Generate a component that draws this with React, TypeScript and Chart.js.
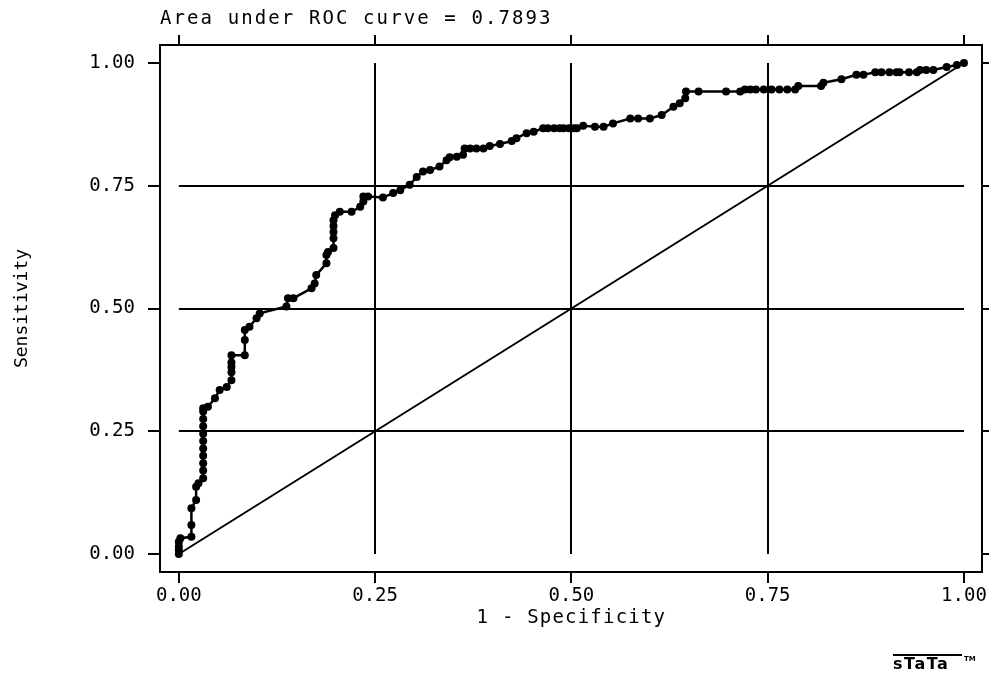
import React, { useEffect, useRef } from "react";
import { Chart, registerables } from "chart.js";
Chart.register(...registerables);

// ROC curve points (1 - specificity, sensitivity)
const fpr = [
  0, 0, 0, 0, 0.002, 0.016, 0.016, 0.016, 0.022, 0.022, 0.025, 0.031, 0.031, 0.031, 0.031, 0.031,
  0.031, 0.031, 0.031, 0.031, 0.031, 0.031, 0.037, 0.046, 0.052, 0.061, 0.067, 0.067, 0.067, 0.067,
  0.067, 0.084, 0.084, 0.084, 0.09, 0.099, 0.103, 0.137, 0.139, 0.146, 0.169, 0.173, 0.175, 0.188,
  0.188, 0.19, 0.197, 0.197, 0.197, 0.197, 0.197, 0.199, 0.205, 0.22, 0.231, 0.235, 0.235, 0.241,
  0.26, 0.273, 0.282, 0.294, 0.303, 0.311, 0.32, 0.332, 0.341, 0.345, 0.354, 0.362, 0.364, 0.371,
  0.379, 0.388, 0.396, 0.409, 0.424, 0.43, 0.443, 0.452, 0.464, 0.47, 0.478, 0.485, 0.49, 0.497,
  0.503, 0.507, 0.515, 0.53, 0.541, 0.553, 0.575, 0.585, 0.6, 0.615, 0.63, 0.638, 0.645, 0.646,
  0.662, 0.697, 0.715, 0.721, 0.728, 0.735, 0.745, 0.755, 0.765, 0.775, 0.785, 0.789, 0.818, 0.821,
  0.844, 0.863, 0.872, 0.887, 0.895, 0.905, 0.914, 0.918, 0.93, 0.94, 0.944, 0.952, 0.961, 0.978,
  0.991, 1.0,
];
const tpr = [
  0, 0.008, 0.015, 0.025, 0.032, 0.035, 0.059, 0.093, 0.11, 0.137, 0.144, 0.154, 0.17, 0.185, 0.2, 0.215,
  0.23, 0.245, 0.26, 0.275, 0.29, 0.297, 0.3, 0.317, 0.334, 0.34, 0.354, 0.37, 0.381, 0.39,
  0.405, 0.405, 0.436, 0.456, 0.463, 0.48, 0.49, 0.504, 0.521, 0.521, 0.541, 0.551, 0.568, 0.592,
  0.609, 0.615, 0.623, 0.643, 0.656, 0.668, 0.68, 0.69, 0.697, 0.697, 0.707, 0.718, 0.728, 0.728,
  0.726, 0.735, 0.741, 0.752, 0.768, 0.779, 0.782, 0.789, 0.802, 0.808, 0.809, 0.813, 0.826, 0.826,
  0.826, 0.826, 0.831, 0.835, 0.841, 0.847, 0.857, 0.86, 0.867, 0.867, 0.867, 0.867, 0.867, 0.867,
  0.867, 0.867, 0.872, 0.87, 0.87, 0.877, 0.887, 0.887, 0.887, 0.894, 0.911, 0.918, 0.928, 0.942,
  0.942, 0.942, 0.942, 0.946, 0.946, 0.946, 0.946, 0.946, 0.946, 0.946, 0.946, 0.953, 0.953, 0.96,
  0.967, 0.976, 0.976, 0.981, 0.981, 0.981, 0.981, 0.981, 0.981, 0.981, 0.986, 0.986, 0.986, 0.992,
  0.996, 1.0,
];
const diagX = [0, 1];
const diagY = [0, 1];
const tickValues = [0, 0.25, 0.5, 0.75, 1];
const gridValues = [0.25, 0.5, 0.75];
const titleText = "Area under ROC curve = 0.7893";
const xTitle = "1 - Specificity";
const yTitle = "Sensitivity";
const logoText = "sTaTa";

const FONT = '"DejaVu Sans Mono", monospace';

export default function App() {
  const ref = useRef<HTMLCanvasElement>(null);
  useEffect(() => {
    document.body.style.margin = "0";
    const canvas = ref.current!;

    const stataPlugin = {
      id: "stataFrame",
      beforeDatasetsDraw(chart: any) {
        const { ctx, scales } = chart;
        const xs = scales.x, ys = scales.y;
        ctx.save();
        ctx.strokeStyle = "#000";
        ctx.lineWidth = 2;
        gridValues.forEach((v) => {
          const px = Math.round(xs.getPixelForValue(v));
          ctx.beginPath();
          ctx.moveTo(px, ys.getPixelForValue(1));
          ctx.lineTo(px, ys.getPixelForValue(0));
          ctx.stroke();
          const py = Math.round(ys.getPixelForValue(v));
          ctx.beginPath();
          ctx.moveTo(xs.getPixelForValue(0), py);
          ctx.lineTo(xs.getPixelForValue(1), py);
          ctx.stroke();
        });
        ctx.restore();
      },
      afterDraw(chart: any) {
        const { ctx, chartArea, scales } = chart;
        const xs = scales.x, ys = scales.y;
        ctx.save();
        ctx.strokeStyle = "#000";
        ctx.lineWidth = 2;
        ctx.strokeRect(chartArea.left, chartArea.top, chartArea.right - chartArea.left, chartArea.bottom - chartArea.top);
        ctx.lineWidth = 2;
        tickValues.forEach((v) => {
          const px = Math.round(xs.getPixelForValue(v));
          ctx.beginPath();
          ctx.moveTo(px, chartArea.top);
          ctx.lineTo(px, chartArea.top - 10);
          ctx.stroke();
          const py = Math.round(ys.getPixelForValue(v));
          ctx.beginPath();
          ctx.moveTo(chartArea.right, py);
          ctx.lineTo(chartArea.right + 7, py);
          ctx.stroke();
        });
        ctx.fillStyle = "#000";
        // title
        ctx.font = `19px ${FONT}`;
        (ctx as any).letterSpacing = "2.1px";
        ctx.textAlign = "left";
        ctx.textBaseline = "alphabetic";
        ctx.fillText(titleText, chartArea.left, 24);
        // x title
        (ctx as any).letterSpacing = "1.2px";
        ctx.textAlign = "center";
        ctx.fillText(xTitle, xs.getPixelForValue(0.5), 623);
        // y title
        (ctx as any).letterSpacing = "0px";
        ctx.save();
        ctx.translate(27, ys.getPixelForValue(0.5));
        ctx.rotate(-Math.PI / 2);
        ctx.font = `18px ${FONT}`;
        ctx.fillText(yTitle, 0, 0);
        ctx.restore();
        // logo
        ctx.lineWidth = 2;
        ctx.beginPath();
        ctx.moveTo(893, 655);
        ctx.lineTo(962, 655);
        ctx.stroke();
        ctx.font = `bold 16px "DejaVu Sans"`;
        (ctx as any).letterSpacing = "1.5px";
        ctx.textAlign = "left";
        ctx.fillText(logoText, 893, 669);
        ctx.font = `bold 7px "DejaVu Sans"`;
        (ctx as any).letterSpacing = "0px";
        ctx.fillText("TM", 964, 661);
        ctx.restore();
      },
    };

    const axisCommon = {
      type: "linear" as const,
      afterBuildTicks: (scale: any) => {
        scale.ticks = tickValues.map((v) => ({ value: v }));
      },
      grid: {
        drawOnChartArea: false,
        drawTicks: true,
        color: "#000",
        lineWidth: 2,
      },
      border: { display: true, color: "#000", width: 2 },
      title: { display: false },
    };

    const chart = new Chart(canvas, {
      type: "scatter",
      data: {
        datasets: [
          {
            label: "ROC",
            data: fpr.map((x, i) => ({ x, y: tpr[i] })),
            showLine: true,
            borderColor: "#000",
            backgroundColor: "#000",
            borderWidth: 2.5,
            pointRadius: 4,
            pointBorderWidth: 0,
            pointBackgroundColor: "#000",
          },
          {
            label: "Reference",
            data: diagX.map((x, i) => ({ x, y: diagY[i] })),
            showLine: true,
            borderColor: "#000",
            borderWidth: 2,
            pointRadius: 0,
          },
        ],
      },
      options: {
        responsive: false,
        animation: false,
        devicePixelRatio: 1,
        layout: { padding: { top: 45, right: 7, bottom: 43, left: 0 } },
        plugins: {
          legend: { display: false },
          tooltip: { enabled: false },
          title: { display: false },
        },
        scales: {
          x: {
            ...axisCommon,
            position: "bottom",
            min: -0.024,
            max: 1.023,
            afterFit: (scale: any) => {
              scale.height = 60;
            },
            grid: { ...axisCommon.grid, tickLength: 11 },
            ticks: {
              color: "#000",
              font: { family: FONT, size: 19 },
              padding: 2,
              maxRotation: 0,
              callback: (v: any) => Number(v).toFixed(2),
            },
          },
          y: {
            ...axisCommon,
            position: "left",
            min: -0.0367,
            max: 1.0367,
            afterFit: (scale: any) => {
              scale.width = 160;
            },
            grid: { ...axisCommon.grid, tickLength: 12 },
            ticks: {
              color: "#000",
              font: { family: FONT, size: 19 },
              padding: 13,
              callback: (v: any) => Number(v).toFixed(2),
            },
          },
        },
      },
      plugins: [stataPlugin],
    } as any);
    return () => chart.destroy();
  }, []);
  return (
    <div style={{ width: 989, height: 675, background: "#fff" }}>
      <canvas ref={ref} width={989} height={675} style={{ display: "block" }} />
    </div>
  );
}
